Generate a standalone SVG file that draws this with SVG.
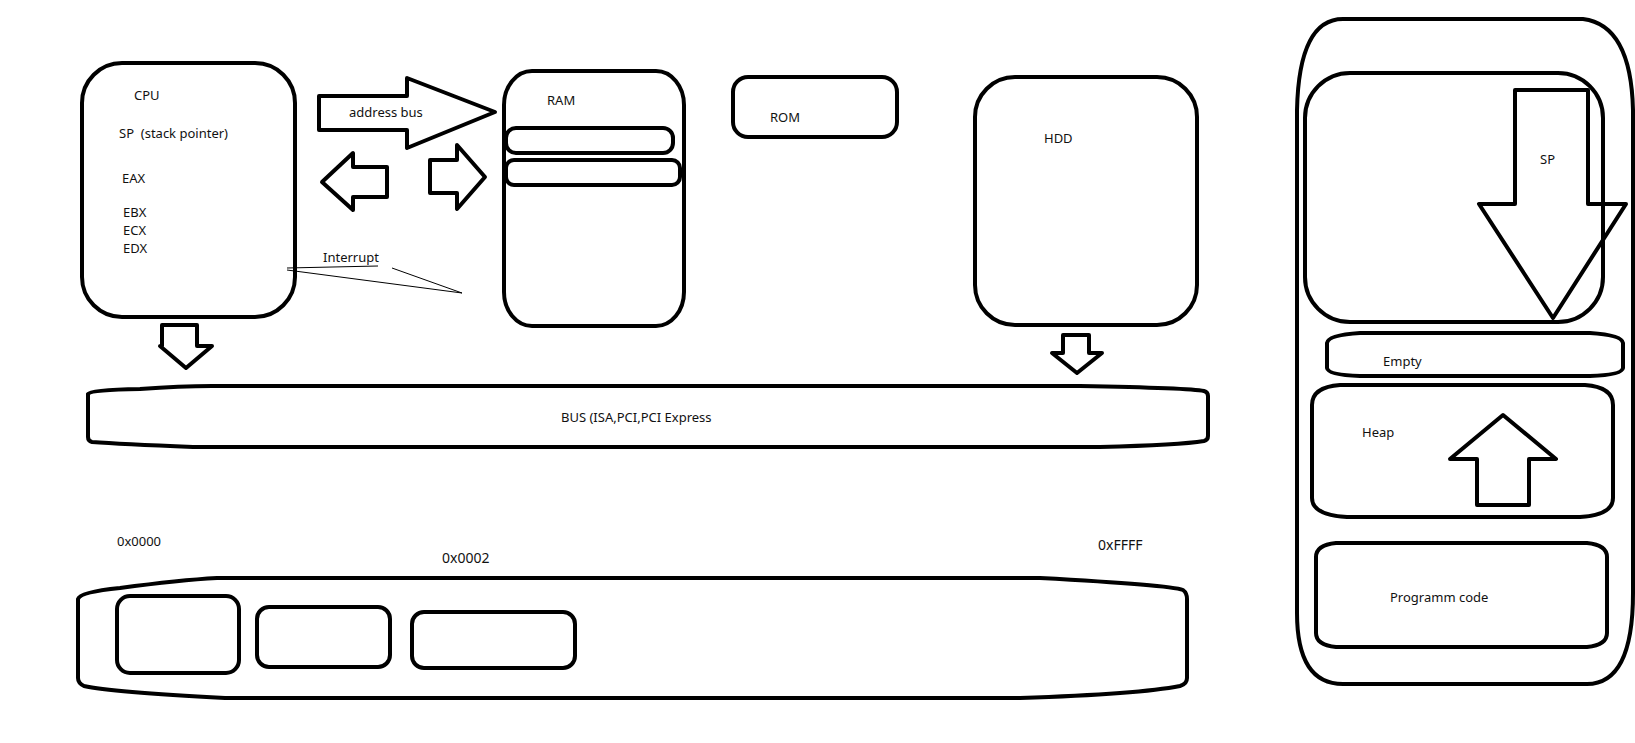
<svg xmlns="http://www.w3.org/2000/svg" width="1635" height="743" viewBox="0 0 1635 743">
<style>
.s{fill:#fff;stroke:#000;stroke-width:4;stroke-linejoin:round}
.n{fill:none;stroke:#000;stroke-width:4;stroke-linejoin:round}
.t{font-family:"Noto Sans","Open Sans","Liberation Sans",sans-serif;font-size:13px;fill:#111}
.thin{fill:none;stroke:#000;stroke-width:1}
</style>
<rect width="1635" height="743" fill="#fff"/>
<g id="cpu">
<rect class="s" x="82" y="63" width="213" height="254" rx="40" ry="40"/>
<text class="t" x="134" y="100">CPU</text>
<text class="t" x="119" y="138" xml:space="preserve">SP  (stack pointer)</text>
<text class="t" x="122" y="183">EAX</text>
<text class="t" x="123" y="217">EBX</text>
<text class="t" x="123" y="235">ECX</text>
<text class="t" x="123" y="253">EDX</text>
</g>
<g id="ram">
<rect class="s" x="504" y="71" width="180" height="255" rx="28" ry="34"/>
<text class="t" x="547" y="105">RAM</text>
<rect class="n" x="506" y="128" width="167" height="25" rx="10"/>
<rect class="n" x="506" y="160" width="174" height="25" rx="8"/>
</g>
<g id="rom">
<rect class="s" x="733" y="77" width="164" height="60" rx="15"/>
<text class="t" x="770" y="122">ROM</text>
</g>
<g id="hdd">
<rect class="s" x="975" y="77" width="222" height="248" rx="40"/>
<text class="t" x="1044" y="143">HDD</text>
</g>
<g id="bus">
<path class="s" d="M88,394 Q90,390 140,389 Q180,386 212,386 L1080,386 Q1190,388 1204,391 Q1208,392 1208,396 L1208,436 Q1208,440 1204,441 Q1180,445 1100,447 L193,447 Q120,444 92,442 Q88,441 88,437 Z"/>
<text class="t" x="561" y="422">BUS (ISA,PCI,PCI Express</text>
</g>
<g id="memory">
<path class="s" d="M78,599 Q80,592 120,588 Q180,580 217,578 L1040,578 Q1170,585 1183,590 Q1187,593 1187,599 L1187,678 Q1187,684 1180,686 Q1140,694 1020,698 L225,698 Q110,692 84,686 Q78,683 78,678 Z"/>
<rect class="n" x="117" y="596" width="122" height="77" rx="13"/>
<rect class="n" x="257" y="607" width="133" height="60" rx="12"/>
<rect class="n" x="412" y="612" width="163" height="56" rx="12"/>
<text class="t" x="117" y="546">0x0000</text>
<text class="t" x="442" y="563" style="font-size:14px">0x0002</text>
<text class="t" x="1098" y="550" style="font-size:14px">0xFFFF</text>
</g>
<g id="process-memory">
<path class="s" d="M1297,110 Q1299,19 1343,19 L1583,19 Q1631,25 1633,110 L1633,593 Q1633,684 1587,684 L1343,684 Q1297,684 1297,613 Z"/>
<g id="stack">
<rect class="n" x="1305" y="73" width="298" height="249" rx="45"/>
<polygon class="n" points="1515,90 1588,90 1588,204 1626,204 1553,318 1479,204 1515,204"/>
<text class="t" x="1540" y="164">SP</text>
</g>
<g id="empty">
<path class="n" d="M1327,343 Q1328,335 1360,333 L1590,333 Q1622,335 1623,343 L1623,368 Q1622,375 1590,376 L1360,376 Q1328,375 1327,368 Z"/>
<text class="t" x="1383" y="366">Empty</text>
</g>
<g id="heap">
<path class="n" d="M1312,405 Q1312,387 1340,385 L1585,385 Q1613,387 1613,405 L1613,498 Q1613,515 1580,517 L1347,517 Q1312,515 1312,498 Z"/>
<polygon class="n" points="1503,415 1556,459 1529,459 1529,505 1477,505 1477,459 1450,459"/>
<text class="t" x="1362" y="437">Heap</text>
</g>
<g id="code">
<path class="n" d="M1316,557 Q1316,545 1336,543 L1587,543 Q1607,545 1607,557 L1607,633 Q1607,645 1587,647 L1336,647 Q1316,645 1316,633 Z"/>
<text class="t" x="1390" y="602">Programm code</text>
</g>
</g>
<g id="connectors">
<polygon class="s" points="319,96 407,96 407,78 495,112 407,148 407,130 319,130"/>
<text class="t" x="349" y="117">address bus</text>
<polygon class="s" points="322,182 353,153 353,167 387,167 387,197 353,197 353,210"/>
<polygon class="s" points="430,160 457,160 457,145 485,177 457,209 457,193 430,193"/>
<polygon class="s" points="162,325 197,325 197,346 212,346 186,368 160,346 162,346"/>
<polygon class="s" points="1063,335 1089,335 1089,353 1102,353 1077,373 1052,353 1063,353"/>
<polyline class="thin" points="287,268 378,266"/>
<polyline class="thin" points="287,270 462,293"/>
<polyline class="thin" points="392,268 462,293"/>
<text class="t" x="323" y="262">Interrupt</text>
</g>
</svg>
